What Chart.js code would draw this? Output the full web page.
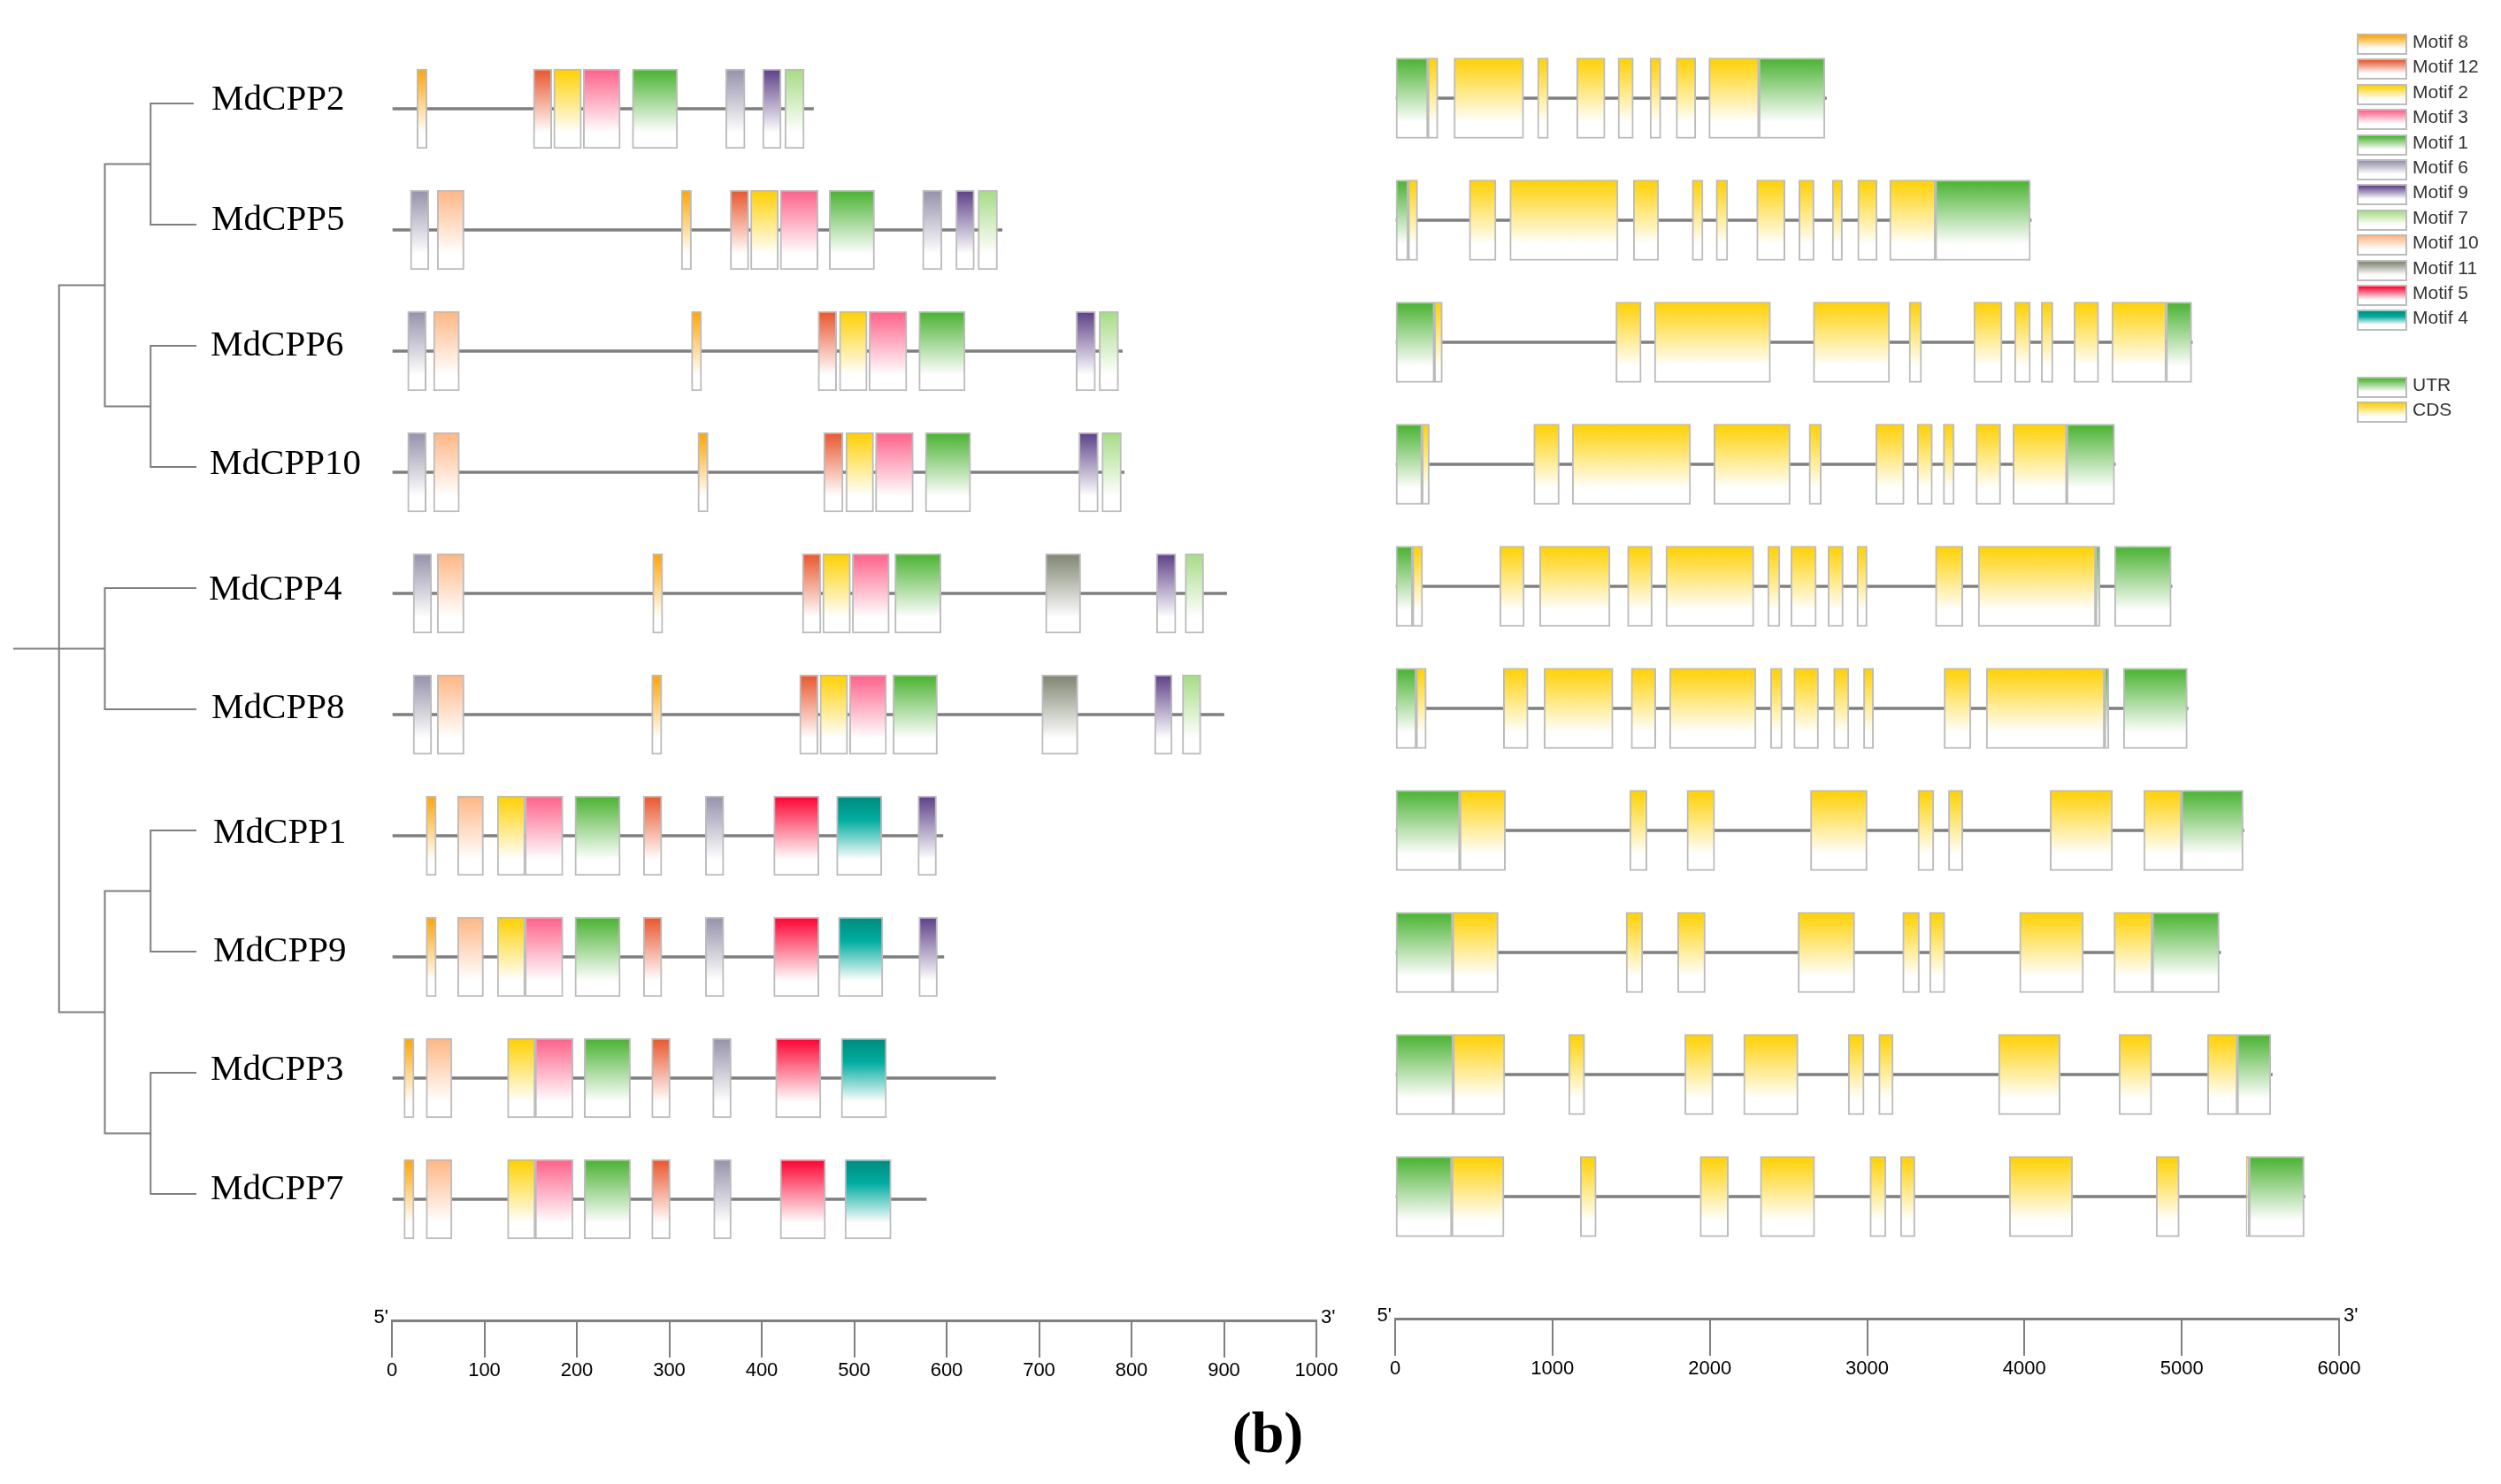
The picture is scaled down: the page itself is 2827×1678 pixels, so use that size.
<!DOCTYPE html>
<html>
<head>
<meta charset="utf-8">
<script src="https://cdn.jsdelivr.net/npm/chart.js"></script>
<style>
  html, body { margin: 0; background: #fff; }
  #page { position: relative; width: 2827px; height: 1678px; overflow: hidden; }
  canvas { position: absolute; }
  .swatch { position: absolute; width: 57px; height: 24px; box-sizing: border-box; border: 2px solid #bcbcbc; }
  .key { position: absolute; font: 21px "Liberation Sans"; color: #333; line-height: 24px; white-space: nowrap; }
  #panel { position: absolute; left: 1333px; top: 1582px; width: 200px; text-align: center; font: bold 66px "Liberation Serif"; color: #000; }
</style>
</head>
<body>
<div id="page">
  <canvas id="treeChart" width="445" height="1425" style="left:0;top:0"></canvas>
  <canvas id="motifChart" width="1150" height="1593" style="left:400px;top:0"></canvas>
  <canvas id="geneChart" width="1170" height="1591" style="left:1540px;top:0"></canvas>
  <div id="panel">(b)</div>
</div>
<script>
//setup block
const genes = ['MdCPP2', 'MdCPP5', 'MdCPP6', 'MdCPP10', 'MdCPP4', 'MdCPP8', 'MdCPP1', 'MdCPP9', 'MdCPP3', 'MdCPP7'];

const legendMotifs = [8, 12, 2, 3, 1, 6, 9, 7, 10, 11, 5, 4];
const legendParts = ['UTR', 'CDS'];

const motifTicks = [0, 100, 200, 300, 400, 500, 600, 700, 800, 900, 1000];
const geneTicks = [0, 1000, 2000, 3000, 4000, 5000, 6000];

//protein lengths, same order as genes
const proteinLengths = [456, 660, 790, 792, 903, 900, 596, 597, 653, 578];

//motif id, start, end
const motifsCPP2 = [[8, 27, 38], [12, 153, 173], [2, 175, 205], [3, 207, 247], [1, 260, 309], [6, 361, 382], [9, 401, 421], [7, 425, 446]];
const motifsCPP5 = [[6, 20, 40], [10, 49, 78], [8, 313, 324], [12, 366, 386], [2, 388, 418], [3, 420, 461], [1, 473, 522], [6, 574, 595], [9, 610, 630], [7, 634, 655]];
const motifsCPP6 = [[6, 17, 37], [10, 45, 73], [8, 324, 335], [12, 461, 481], [2, 484, 514], [3, 516, 557], [1, 570, 620], [9, 740, 761], [7, 765, 786]];
const motifsCPP10 = [[6, 17, 37], [10, 45, 73], [8, 331, 342], [12, 467, 488], [2, 491, 521], [3, 523, 564], [1, 577, 626], [9, 743, 764], [7, 768, 789]];
const motifsCPP4 = [[6, 23, 43], [10, 49, 78], [8, 282, 293], [12, 444, 464], [2, 466, 496], [3, 498, 538], [1, 544, 594], [11, 707, 745], [9, 827, 848], [7, 858, 878]];
const motifsCPP8 = [[6, 23, 43], [10, 49, 78], [8, 281, 292], [12, 441, 461], [2, 463, 493], [3, 495, 535], [1, 542, 590], [11, 703, 742], [9, 825, 844], [7, 855, 875]];
const motifsCPP1 = [[8, 37, 48], [10, 71, 99], [2, 114, 144], [3, 144, 185], [1, 198, 247], [12, 272, 292], [6, 339, 359], [5, 413, 462], [4, 481, 530], [9, 569, 589]];
const motifsCPP9 = [[8, 37, 48], [10, 71, 99], [2, 114, 144], [3, 144, 185], [1, 198, 247], [12, 272, 292], [6, 339, 359], [5, 413, 462], [4, 483, 531], [9, 570, 590]];
const motifsCPP3 = [[8, 13, 24], [10, 37, 65], [2, 125, 155], [3, 155, 196], [1, 208, 258], [12, 281, 301], [6, 347, 367], [5, 415, 464], [4, 486, 535]];
const motifsCPP7 = [[8, 13, 24], [10, 37, 65], [2, 125, 155], [3, 155, 196], [1, 208, 258], [12, 281, 301], [6, 348, 367], [5, 420, 469], [4, 490, 540]];
const motifRows = [motifsCPP2, motifsCPP5, motifsCPP6, motifsCPP10, motifsCPP4, motifsCPP8, motifsCPP1, motifsCPP9, motifsCPP3, motifsCPP7];

//gene lengths, same order as genes
const geneLengths = [2741, 4043, 5067, 4578, 4938, 5040, 5395, 5247, 5575, 5783];

//part, start, end
const exonsCPP2 = [['UTR', 0, 208], ['CDS', 208, 272], ['CDS', 374, 817], ['CDS', 905, 974], ['CDS', 1154, 1334], ['CDS', 1417, 1514], ['CDS', 1620, 1689], ['CDS', 1786, 1911], ['CDS', 1994, 2312], ['UTR', 2312, 2732]];
const exonsCPP5 = [['UTR', 0, 83], ['CDS', 83, 143], ['CDS', 471, 641], ['CDS', 729, 1417], ['CDS', 1514, 1675], ['CDS', 1888, 1957], ['CDS', 2040, 2114], ['CDS', 2298, 2478], ['CDS', 2566, 2663], ['CDS', 2778, 2843], ['CDS', 2940, 3064], ['CDS', 3143, 3434], ['UTR', 3434, 4038]];
const exonsCPP6 = [['UTR', 0, 249], ['CDS', 249, 300], ['CDS', 1403, 1564], ['CDS', 1648, 2386], ['CDS', 2658, 3143], ['CDS', 3267, 3346], ['CDS', 3678, 3858], ['CDS', 3937, 4038], ['CDS', 4107, 4181], ['CDS', 4315, 4472], ['CDS', 4555, 4901], ['UTR', 4901, 5063]];
const exonsCPP10 = [['UTR', 0, 171], ['CDS', 171, 217], ['CDS', 881, 1043], ['CDS', 1126, 1878], ['CDS', 2026, 2511], ['CDS', 2631, 2709], ['CDS', 3055, 3235], ['CDS', 3318, 3415], ['CDS', 3484, 3554], ['CDS', 3692, 3849], ['CDS', 3927, 4269], ['UTR', 4269, 4573]];
const exonsCPP4 = [['UTR', 0, 111], ['CDS', 111, 175], ['CDS', 665, 821], ['CDS', 918, 1366], ['CDS', 1477, 1634], ['CDS', 1721, 2280], ['CDS', 2368, 2446], ['CDS', 2515, 2677], ['CDS', 2751, 2848], ['CDS', 2935, 3000], ['CDS', 3434, 3609], ['CDS', 3706, 4453], ['UTR', 4453, 4481], ['UTR', 4573, 4933]];
const exonsCPP8 = [['UTR', 0, 134], ['CDS', 134, 198], ['CDS', 688, 845], ['CDS', 946, 1385], ['CDS', 1500, 1657], ['CDS', 1744, 2294], ['CDS', 2386, 2460], ['CDS', 2534, 2691], ['CDS', 2787, 2884], ['CDS', 2977, 3041], ['CDS', 3489, 3660], ['CDS', 3757, 4509], ['UTR', 4509, 4537], ['UTR', 4629, 5035]];
const exonsCPP1 = [['UTR', 0, 411], ['CDS', 411, 701], ['CDS', 1491, 1601], ['CDS', 1855, 2031], ['CDS', 2640, 3000], ['CDS', 3323, 3424], ['CDS', 3517, 3609], ['CDS', 4163, 4560], ['CDS', 4758, 4998], ['UTR', 4998, 5390]];
const exonsCPP9 = [['UTR', 0, 365], ['CDS', 365, 655], ['CDS', 1468, 1574], ['CDS', 1795, 1971], ['CDS', 2561, 2921], ['CDS', 3226, 3332], ['CDS', 3397, 3494], ['CDS', 3969, 4375], ['CDS', 4569, 4813], ['UTR', 4813, 5238]];
const exonsCPP3 = [['UTR', 0, 369], ['CDS', 369, 697], ['CDS', 1103, 1205], ['CDS', 1841, 2021], ['CDS', 2215, 2561], ['CDS', 2880, 2981], ['CDS', 3074, 3166], ['CDS', 3835, 4227], ['CDS', 4601, 4809], ['CDS', 5164, 5353], ['UTR', 5353, 5566]];
const exonsCPP7 = [['UTR', 0, 360], ['CDS', 360, 692], ['CDS', 1177, 1278], ['CDS', 1938, 2118], ['CDS', 2321, 2667], ['CDS', 3018, 3120], ['CDS', 3212, 3304], ['CDS', 3904, 4306], ['CDS', 4837, 4984], ['CDS', 5409, 5427], ['UTR', 5427, 5778]];
const exonRows = [exonsCPP2, exonsCPP5, exonsCPP6, exonsCPP10, exonsCPP4, exonsCPP8, exonsCPP1, exonsCPP9, exonsCPP3, exonsCPP7];

//tree branches as depth, row
const treeBranches = [
  [[-1, 4.5], [1, 4.5]],
  [[1, 1.5], [0, 1.5], [0, 7.5], [1, 7.5]],
  [[2, 0.5], [1, 0.5], [1, 2.5], [2, 2.5]],
  [[2.94, 0], [2, 0], [2, 1], [3, 1]],
  [[3, 2], [2, 2], [2, 3], [3, 3]],
  [[3, 4], [1, 4], [1, 5], [3, 5]],
  [[2, 6.5], [1, 6.5], [1, 8.5], [2, 8.5]],
  [[3, 6], [2, 6], [2, 7], [3, 7]],
  [[3, 8], [2, 8], [2, 9], [3, 9]]
];

//styles
const colors = {
  8: '#ffa400', 12: '#e9552c', 2: '#ffd000', 3: '#ff6089', 1: '#48b22f', 6: '#9491aa',
  9: '#5c3f87', 7: '#a5dc83', 10: '#ffb683', 11: '#7e8570', 5: '#ff0030', 4: '#008a7c',
  UTR: '#48b22f', CDS: '#ffd000'
};
const grey = '#7f7f7f';
const edge = '#bcbcbc';
const sans = 'Liberation Sans';
//small shifts of the gene names against their branch tips
const nameShiftX = [0, 0, -1, -2, -3, 0, 2, 2, -1, -1];
const nameShiftY = [-4, -5, 0, -3, 2, -1, 3, 0, -3, -5];

function fade(chart, key, row, height) {
  const mid = chart.scales.y.getPixelForValue(row);
  //reset pass runs before layout, scale has no pixels yet
  if (!Number.isFinite(mid)) return colors[key];
  const g = chart.ctx.createLinearGradient(0, mid - height / 2, 0, mid + height / 2);
  g.addColorStop(0, colors[key]);
  if (key === 4) g.addColorStop(0.3, '#00ada0');
  g.addColorStop(0.8, '#ffffff');
  g.addColorStop(1, '#ffffff');
  return g;
}

function boxDataset(key, rows, height) {
  const data = [];
  rows.forEach((row, i) => row.forEach(r => {
    if (r[0] === key) data.push({ y: i, x: [r[1], r[2]] });
  }));
  return {
    label: String(key),
    data,
    grouped: false,
    order: 1,
    barThickness: height,
    borderWidth: 2,
    borderColor: edge,
    borderSkipped: false,
    backgroundColor: ctx => ctx.parsed ? fade(ctx.chart, key, ctx.parsed.y, height) : colors[key]
  };
}

function lineDataset(lengths) {
  return {
    label: 'backbone',
    data: lengths.map((len, i) => ({ y: i, x: [0, len] })),
    grouped: false,
    order: 99,
    barThickness: 3,
    backgroundColor: grey
  };
}

//draws 5' and 3' over the scale ends
const endLabels = {
  id: 'endLabels',
  afterDraw(chart) {
    const { ctx, chartArea } = chart;
    ctx.save();
    ctx.font = '22px "' + sans + '"';
    ctx.fillStyle = '#000';
    ctx.textBaseline = 'middle';
    ctx.textAlign = 'right';
    ctx.fillText("5'", chartArea.left - 4, chartArea.bottom - 3);
    ctx.textAlign = 'left';
    ctx.fillText("3'", chartArea.right + 5, chartArea.bottom - 3);
    ctx.restore();
  }
};

//config block
function barConfig(datasets, maxX, ticks, pad) {
  return {
    type: 'bar',
    data: { datasets },
    plugins: [endLabels],
    options: {
      indexAxis: 'y',
      responsive: false,
      animation: false,
      devicePixelRatio: 1,
      events: [],
      layout: { padding: pad },
      plugins: { legend: { display: false }, tooltip: { enabled: false } },
      scales: {
        y: { type: 'linear', offset: false, reverse: true, min: -0.5, max: 10, display: false },
        x: {
          type: 'linear',
          position: 'bottom',
          min: 0,
          max: maxX,
          afterBuildTicks: scale => { scale.ticks = ticks.map(value => ({ value })); },
          afterFit: scale => { scale.height = 100; scale.paddingLeft = 0; scale.paddingRight = 0; },
          border: { color: grey, width: 3 },
          grid: { drawOnChartArea: false, color: grey, lineWidth: 2, tickLength: 42 },
          ticks: { color: '#000', font: { family: sans, size: 22 }, padding: 2, maxRotation: 0, autoSkip: false, callback: v => String(v) }
        }
      }
    }
  };
}

//draws the gene names next to the tree tips
const geneNames = {
  id: 'geneNames',
  afterDraw(chart) {
    const { ctx, scales } = chart;
    ctx.save();
    ctx.font = '41px "Liberation Serif"';
    ctx.fillStyle = '#000';
    ctx.textBaseline = 'middle';
    genes.forEach((name, i) => {
      ctx.fillText(name, scales.x.getPixelForValue(3.33) + nameShiftX[i], scales.y.getPixelForValue(i) + nameShiftY[i]);
    });
    ctx.restore();
  }
};

//init render block
new Chart(document.getElementById('treeChart'), {
  type: 'scatter',
  data: {
    datasets: treeBranches.map(branch => ({
      data: branch.map(p => ({ x: p[0], y: p[1] })),
      showLine: true,
      clip: false,
      borderColor: grey,
      borderWidth: 2,
      pointRadius: 0
    }))
  },
  plugins: [geneNames],
  options: {
    responsive: false,
    animation: false,
    devicePixelRatio: 1,
    events: [],
    layout: { padding: { left: 15, right: 223, top: 48.5, bottom: 6.5 } },
    plugins: { legend: { display: false }, tooltip: { enabled: false } },
    scales: {
      x: { type: 'linear', min: -1, max: 3, display: false },
      y: { type: 'linear', reverse: true, min: -0.5, max: 9.5, display: false }
    }
  }
});

new Chart(document.getElementById('motifChart'), barConfig(
  [lineDataset(proteinLengths)].concat(legendMotifs.map(m => boxDataset(m, motifRows, 90))),
  1000, motifTicks, { left: 43, right: 62, top: 54.5, bottom: 0 }
));

new Chart(document.getElementById('geneChart'), barConfig(
  [lineDataset(geneLengths)].concat(legendParts.map(p => boxDataset(p, exonRows, 91))),
  6000, geneTicks, { left: 37, right: 66, top: 42, bottom: 0 }
));

//legend block
const page = document.getElementById('page');
function addKey(key, text, top) {
  const s = document.createElement('div');
  s.className = 'swatch';
  s.style.left = '2664px';
  s.style.top = top + 'px';
  const mid = key === 4 ? ', #00ada0 30%' : '';
  s.style.background = 'linear-gradient(' + colors[key] + mid + ', #fff 75%)';
  page.appendChild(s);
  const t = document.createElement('div');
  t.className = 'key';
  t.style.left = '2727px';
  t.style.top = (top - 3) + 'px';
  t.textContent = text;
  page.appendChild(t);
}
legendMotifs.forEach((m, i) => addKey(m, 'Motif ' + m, 38 + i * 28.4));
legendParts.forEach((p, i) => addKey(p, p, 426 + i * 28.4));
</script>
</body>
</html>
